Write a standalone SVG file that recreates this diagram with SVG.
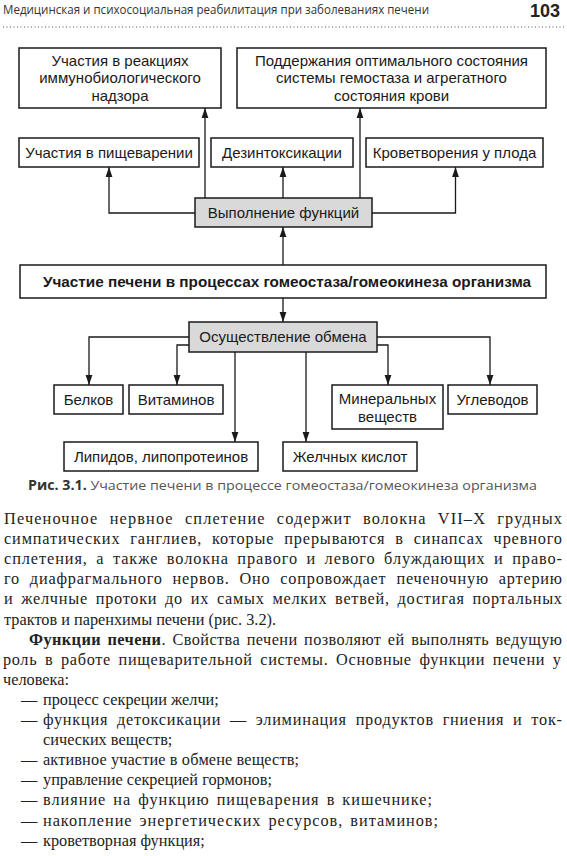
<svg xmlns="http://www.w3.org/2000/svg" width="567" height="856" viewBox="0 0 567 856">
<defs>
<marker id="ah" markerUnits="userSpaceOnUse" markerWidth="10" markerHeight="8" refX="10" refY="4" orient="auto">
<path d="M0,0.6 L10,4 L0,7.4 z" fill="#1a1a1a"/>
</marker>
</defs>
<style>
.bx{fill:#fff;stroke:#1a1a1a;stroke-width:1.5}
.gr{fill:#d9d9d9;stroke:#1a1a1a;stroke-width:1.5}
.t{font-family:"Liberation Sans",Arial,sans-serif;font-size:15px;fill:#1a1a1a;text-anchor:middle}
.tb{font-family:"Liberation Sans",Arial,sans-serif;font-size:15.3px;font-weight:bold;fill:#1a1a1a;text-anchor:middle}
.cn{fill:none;stroke:#1a1a1a;stroke-width:1.3;marker-end:url(#ah)}
.body{font-family:"Liberation Serif","Times New Roman",serif;font-size:16.3px;fill:#222}
.hdr{font-family:"Open Sans","Liberation Sans",sans-serif;font-size:13px;fill:#333}
.cap{font-family:"Open Sans","Liberation Sans",sans-serif;font-size:13.5px;fill:#555}
</style>
<rect width="567" height="856" fill="#fff"/>
<g id="header">
<text class="hdr" x="3" y="14" textLength="426" lengthAdjust="spacingAndGlyphs">Медицинская и психосоциальная реабилитация при заболеваниях печени</text>
<text x="560" y="17" font-family="Liberation Sans,Arial,sans-serif" font-size="18" font-weight="bold" fill="#222" text-anchor="end">103</text>
<line x1="3" y1="27" x2="564" y2="27" stroke="#555" stroke-width="1" stroke-dasharray="1,2.5"/>
</g>
<g id="connectors">
<path class="cn" d="M205,198 V108"/>
<path class="cn" d="M360,198 V108"/>
<path class="cn" d="M283,198 V167"/>
<path class="cn" d="M195,213 H109 V167"/>
<path class="cn" d="M372,213 H455.5 V167"/>
<path class="cn" d="M283,265 V227"/>
<path class="cn" d="M283,298 V322"/>
<path class="cn" d="M189,337 H89 V385"/>
<path class="cn" d="M189,345 H177 V385"/>
<path class="cn" d="M235,352 V442"/>
<path class="cn" d="M306,352 V442"/>
<path class="cn" d="M377,345 H388 V385"/>
<path class="cn" d="M377,337 H490 V385"/>
</g>
<g id="immuno">
<rect class="bx" x="19" y="48" width="202" height="60"/>
<text class="t" x="120" y="65.5">Участия в реакциях</text>
<text class="t" x="120" y="83">иммунобиологического</text>
<text class="t" x="120" y="100.5">надзора</text>
</g>
<g id="hemostasis">
<rect class="bx" x="237" y="48" width="309" height="60"/>
<text class="t" x="391.5" y="65.5">Поддержания оптимального состояния</text>
<text class="t" x="391.5" y="83">системы гемостаза и агрегатного</text>
<text class="t" x="391.5" y="100.5">состояния крови</text>
</g>
<g id="digestion">
<rect class="bx" x="19" y="138" width="180" height="29"/>
<text class="t" x="109" y="158">Участия в пищеварении</text>
</g>
<g id="detox">
<rect class="bx" x="211" y="138" width="142" height="29"/>
<text class="t" x="282" y="158">Дезинтоксикации</text>
</g>
<g id="hematopoiesis">
<rect class="bx" x="366" y="138" width="177" height="29"/>
<text class="t" x="454.5" y="158">Кроветворения у плода</text>
</g>
<g id="functions">
<rect class="gr" x="195" y="198" width="177" height="29"/>
<text class="t" x="283.5" y="218">Выполнение функций</text>
</g>
<g id="main">
<rect class="bx" x="20" y="265" width="526" height="33"/>
<text class="tb" x="287" y="286.5">Участие печени в процессах гомеостаза/гомеокинеза организма</text>
</g>
<g id="metabolism">
<rect class="gr" x="189" y="322" width="188" height="30"/>
<text class="t" x="283" y="342">Осуществление обмена</text>
</g>
<g id="proteins">
<rect class="bx" x="54" y="385" width="69" height="29"/>
<text class="t" x="88.5" y="405">Белков</text>
</g>
<g id="vitamins">
<rect class="bx" x="129" y="385" width="94" height="29"/>
<text class="t" x="176" y="405">Витаминов</text>
</g>
<g id="minerals">
<rect class="bx" x="332" y="385" width="111" height="44"/>
<text class="t" x="387.5" y="404">Минеральных</text>
<text class="t" x="387.5" y="422">веществ</text>
</g>
<g id="carbs">
<rect class="bx" x="448" y="385" width="89" height="29"/>
<text class="t" x="492.5" y="405">Углеводов</text>
</g>
<g id="lipids">
<rect class="bx" x="64" y="442" width="194" height="29"/>
<text class="t" x="161" y="461.5">Липидов, липопротеинов</text>
</g>
<g id="bile">
<rect class="bx" x="283" y="442" width="134" height="29"/>
<text class="t" x="350" y="461.5">Желчных кислот</text>
</g>
<g id="caption">
<text class="cap" x="28" y="490" textLength="509" lengthAdjust="spacingAndGlyphs"><tspan font-weight="bold" fill="#333">Рис. 3.1.</tspan> Участие печени в процессе гомеостаза/гомеокинеза организма</text>
</g>
<g id="bodytext" class="body">
<text x="4" y="524" word-spacing="6" textLength="558" lengthAdjust="spacing">Печеночное нервное сплетение содержит волокна VII–X грудных</text>
<text x="4" y="544.1" word-spacing="5" textLength="558" lengthAdjust="spacing">симпатических ганглиев, которые прерываются в синапсах чревного</text>
<text x="4" y="564.2" word-spacing="3.5" textLength="558" lengthAdjust="spacing">сплетения, а также волокна правого и левого блуждающих и право-</text>
<text x="4" y="584.3" word-spacing="5" textLength="558" lengthAdjust="spacing">го диафрагмального нервов. Оно сопровождает печеночную артерию</text>
<text x="4" y="604.4" word-spacing="3" textLength="558" lengthAdjust="spacing">и желчные протоки до их самых мелких ветвей, достигая портальных</text>
<text x="4" y="624.5">трактов и паренхимы печени (рис. 3.2).</text>
<text x="29" y="644.6" word-spacing="2" textLength="533" lengthAdjust="spacing"><tspan font-weight="bold">Функции печени</tspan>. Свойства печени позволяют ей выполнять ведущую</text>
<text x="3" y="664.7" word-spacing="3" textLength="558" lengthAdjust="spacing">роль в работе пищеварительной системы. Основные функции печени у</text>
<text x="3" y="684.8">человека:</text>
<text x="21" y="704.9">—</text><text x="43" y="704.9">процесс секреции желчи;</text>
<text x="21" y="725">—</text><text x="43" y="725" word-spacing="4" textLength="519" lengthAdjust="spacing">функция детоксикации — элиминация продуктов гниения и ток-</text>
<text x="43" y="745.1">сических веществ;</text>
<text x="21" y="765.2">—</text><text x="43" y="765.2" textLength="256" lengthAdjust="spacing">активное участие в обмене веществ;</text>
<text x="21" y="785.3">—</text><text x="43" y="785.3">управление секрецией гормонов;</text>
<text x="21" y="805.4">—</text><text x="43" y="805.4" word-spacing="2" textLength="389" lengthAdjust="spacing">влияние на функцию пищеварения в кишечнике;</text>
<text x="21" y="825.5">—</text><text x="43" y="825.5" word-spacing="2" textLength="395" lengthAdjust="spacing">накопление энергетических ресурсов, витаминов;</text>
<text x="21" y="845.6">—</text><text x="43" y="845.6">кроветворная функция;</text>
</g>
</svg>
